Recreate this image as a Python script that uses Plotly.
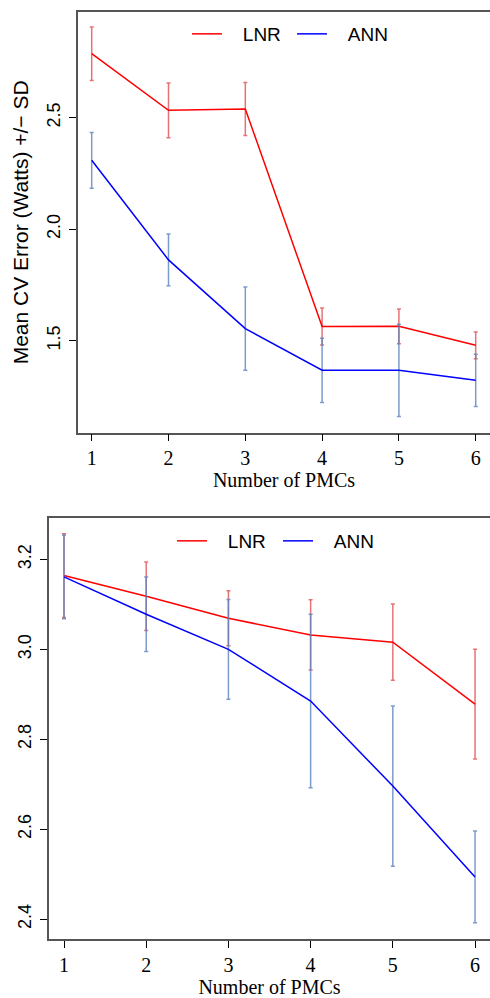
import plotly.graph_objects as go

# ---- data ----
pmcs = [1, 2, 3, 4, 5, 6]
pmc_labels = ["1", "2", "3", "4", "5", "6"]

top_lnr_mean = [2.787, 2.533, 2.539, 1.563, 1.564, 1.479]
top_lnr_sd = [0.120, 0.123, 0.119, 0.083, 0.078, 0.060]
top_ann_mean = [2.309, 1.862, 1.554, 1.367, 1.367, 1.322]
top_ann_sd = [0.125, 0.116, 0.187, 0.144, 0.207, 0.117]

bot_lnr_mean = [3.164, 3.118, 3.069, 3.032, 3.016, 2.878]
bot_lnr_sd = [0.093, 0.076, 0.061, 0.078, 0.085, 0.122]
bot_ann_mean = [3.161, 3.078, 3.000, 2.885, 2.696, 2.494]
bot_ann_sd = [0.093, 0.083, 0.111, 0.193, 0.178, 0.102]

top_yticks = [1.5, 2.0, 2.5]
top_yticklabels = ["1.5", "2.0", "2.5"]
bot_yticks = [2.4, 2.6, 2.8, 3.0, 3.2]
bot_yticklabels = ["2.4", "2.6", "2.8", "3.0", "3.2"]

series_names = ["LNR", "ANN"]
line_colors = ["#ff0000", "#0000ff"]
err_colors = ["rgba(222,80,84,0.8)", "rgba(90,130,190,0.8)"]

W, H = 490, 998
SANS = "Liberation Sans, Arial, sans-serif"
SERIF = "Liberation Serif, Times New Roman, serif"
PAD = "\u00a0\u00a0\u00a0"

fig = go.Figure()

panels = [
    ("x", "y", "legend", [top_lnr_mean, top_ann_mean], [top_lnr_sd, top_ann_sd]),
    ("x2", "y2", "legend2", [bot_lnr_mean, bot_ann_mean], [bot_lnr_sd, bot_ann_sd]),
]
for xa, ya, lg, means, sds in panels:
    for i in range(2):
        fig.add_trace(go.Scatter(
            x=pmcs, y=means[i], mode="lines", name=PAD + series_names[i],
            line=dict(color=line_colors[i], width=1.5),
            error_y=dict(type="data", array=sds[i], visible=True,
                         color=err_colors[i], thickness=1.5, width=2),
            xaxis=xa, yaxis=ya, legend=lg,
        ))

axis_line = dict(showline=True, linecolor="#555555", linewidth=1.5,
                 ticks="outside", ticklen=7, tickcolor="#000000", tickwidth=1,
                 showgrid=False, zeroline=False)

fig.update_layout(
    width=W, height=H,
    margin=dict(l=0, r=0, t=0, b=0),
    paper_bgcolor="white", plot_bgcolor="white",
    showlegend=True,
    xaxis=dict(domain=[78 / W, 1], range=[0.8216, 6.186], anchor="y",
               tickvals=pmcs, ticktext=pmc_labels, mirror=True,
               tickfont=dict(family=SERIF, size=20, color="black"),
               title=dict(text="Number of PMCs", standoff=4,
                          font=dict(family=SERIF, size=20, color="black")),
               **axis_line),
    yaxis=dict(domain=[1 - 432.7 / H, 1 - 12 / H], range=[1.087, 2.974], anchor="x",
               tickvals=top_yticks, ticktext=top_yticklabels, tickangle=-90,
               ticklabelstandoff=2, mirror=False,
               tickfont=dict(family=SANS, size=18, color="black"),
               title=dict(text="Mean CV Error (Watts) +/\u2212 SD", standoff=10,
                          font=dict(family=SANS, size=21, color="black")),
               **axis_line),
    xaxis2=dict(domain=[49 / W, 1], range=[0.8175, 6.182], anchor="y2",
                tickvals=pmcs, ticktext=pmc_labels, mirror=True,
                tickfont=dict(family=SERIF, size=20, color="black"),
                title=dict(text="Number of PMCs", standoff=4,
                           font=dict(family=SERIF, size=20, color="black")),
                **axis_line),
    yaxis2=dict(domain=[1 - 939 / H, 1 - 518 / H], range=[2.356, 3.292], anchor="x2",
                tickvals=bot_yticks, ticktext=bot_yticklabels, tickangle=-90,
                ticklabelstandoff=2, mirror=False,
                tickfont=dict(family=SANS, size=18, color="black"),
                **axis_line),
    legend=dict(orientation="h", x=187 / W, y=1 - 34 / H, xanchor="left", yanchor="middle",
                font=dict(family=SANS, size=19, color="black"),
                bgcolor="rgba(0,0,0,0)", entrywidth=60, entrywidthmode="pixels"),
    legend2=dict(orientation="h", x=172 / W, y=1 - 541 / H, xanchor="left", yanchor="middle",
                 font=dict(family=SANS, size=19, color="black"),
                 bgcolor="rgba(0,0,0,0)", entrywidth=61, entrywidthmode="pixels"),
)

fig.write_html("out.html", config={"displayModeBar": False},
               post_script="document.body.style.margin='0';document.body.style.overflow='hidden';")
